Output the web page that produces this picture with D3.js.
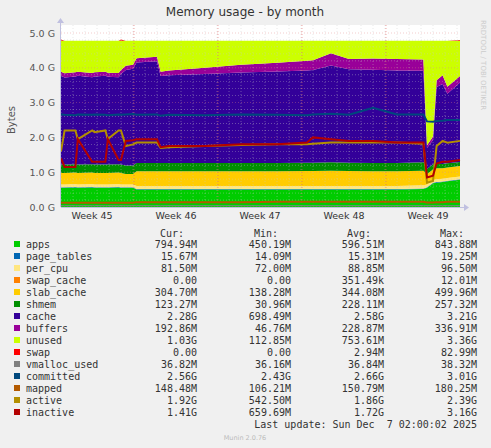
<!DOCTYPE html>
<html><head><meta charset="utf-8">
<script src="https://cdn.jsdelivr.net/npm/d3@7/dist/d3.min.js"></script>
<style>body{margin:0;background:#F0F0F0}svg{display:block}</style>
</head><body><svg id="c" width="491" height="448"></svg>
<script>
// time in days from the left edge of the plot
const days = [0,0.3,1.2,1.4,2.6,2.8,3.7,3.9,4.8,5.0,5.4,6.0,6.3,8.0,8.3,9,12,15,18,20.5,21,22.5,24,26,28,30.2,30.5,31.0,31.3,31.8,32.2,33.25];
const memTotal = 4.78;
const apps = [0.55,0.55,0.56,0.55,0.56,0.55,0.55,0.55,0.56,0.55,0.55,0.55,0.5,0.5,0.5,0.5,0.5,0.5,0.5,0.5,0.5,0.5,0.5,0.5,0.5,0.52,0.55,0.68,0.7,0.72,0.74,0.78];
const page_tables = days.map(()=>0.015);
const per_cpu = [0.085,0.085,0.085,0.085,0.085,0.085,0.085,0.085,0.085,0.085,0.085,0.085,0.09,0.09,0.09,0.09,0.09,0.09,0.09,0.09,0.09,0.09,0.09,0.09,0.09,0.09,0.08,0.08,0.08,0.08,0.08,0.08];
const swap_cache = days.map(()=>0);
const slab_cache = [0.33,0.33,0.33,0.33,0.33,0.33,0.33,0.33,0.33,0.33,0.3,0.3,0.42,0.42,0.42,0.42,0.42,0.42,0.42,0.43,0.43,0.44,0.43,0.42,0.42,0.42,0.3,0.3,0.32,0.3,0.3,0.3];
const shmem = [0.24,0.24,0.24,0.24,0.24,0.24,0.24,0.24,0.24,0.24,0.24,0.24,0.24,0.24,0.24,0.24,0.24,0.24,0.24,0.24,0.24,0.24,0.24,0.24,0.24,0.24,0.15,0.15,0.13,0.12,0.12,0.12];
const cache = [2.55,2.5,2.52,2.55,2.5,2.53,2.55,2.52,2.5,2.6,2.75,2.78,2.89,2.92,2.5,2.52,2.56,2.6,2.63,2.65,2.66,2.78,2.68,2.68,2.66,2.63,0.6,0.7,2.2,2.3,2.0,2.28];
const buffers = [0.12,0.12,0.12,0.12,0.12,0.12,0.12,0.12,0.12,0.12,0.12,0.12,0.12,0.13,0.12,0.14,0.18,0.22,0.25,0.28,0.28,0.35,0.3,0.32,0.33,0.32,0.08,0.1,0.2,0.25,0.2,0.19];
const swap = [0.03,0,0,0,0,0,0,0,0,0.03,0,0,0,0,0,0,0,0,0,0,0,0,0,0,0,0,0,0,0,0,0,0.02];
const vmalloc_used = days.map(()=>0.037);
const committed = [2.66,2.65,2.64,2.66,2.65,2.66,2.65,2.64,2.66,2.65,2.66,2.67,2.65,2.66,2.62,2.65,2.64,2.66,2.65,2.64,2.66,2.68,2.65,2.85,2.66,2.66,2.46,2.45,2.47,2.48,2.5,2.5];
const mapped = [0.12,0.12,0.12,0.12,0.12,0.12,0.12,0.12,0.12,0.12,0.12,0.12,0.14,0.14,0.14,0.14,0.14,0.14,0.15,0.15,0.15,0.15,0.15,0.15,0.15,0.15,0.13,0.13,0.14,0.14,0.15,0.15];
const active = [1.6,2.2,2.2,1.95,2.2,2.15,2.2,1.95,2.2,2.2,1.75,1.8,1.85,1.85,1.7,1.72,1.75,1.78,1.8,1.8,1.82,1.85,1.85,1.85,1.85,1.82,0.7,0.75,1.75,1.9,1.85,1.9];
const inactive = [1.4,1.15,1.15,1.95,1.3,1.3,1.3,1.95,1.35,1.35,1.9,1.92,1.95,1.95,1.72,1.75,1.75,1.8,1.8,1.85,2.0,1.95,1.9,1.9,1.85,1.85,0.85,0.9,1.25,1.3,1.3,1.35];
const yTicks = [0,1,2,3,4,5];
const weekLabels = ["Week 45","Week 46","Week 47","Week 48","Week 49"];
const weekStarts = [-0.92,6.08,13.08,20.08,27.08];
const legendRows = [
 ["apps","794.94M","450.19M","596.51M","843.88M","#00CC00"],
 ["page_tables","15.67M","14.09M","15.31M","19.25M","#0066B3"],
 ["per_cpu","81.50M","72.00M","88.85M","96.50M","#FFE680"],
 ["swap_cache","0.00","0.00","351.49k","12.01M","#FF8000"],
 ["slab_cache","304.70M","138.28M","344.08M","499.96M","#FFCC00"],
 ["shmem","123.27M","30.96M","228.11M","257.32M","#008F00"],
 ["cache","2.28G","698.49M","2.58G","3.21G","#330099"],
 ["buffers","192.86M","46.76M","228.87M","336.91M","#990099"],
 ["unused","1.03G","112.85M","753.61M","3.36G","#CCFF00"],
 ["swap","0.00","0.00","2.94M","82.99M","#FF0000"],
 ["vmalloc_used","36.82M","36.16M","36.84M","38.32M","#808080"],
 ["committed","2.56G","2.43G","2.66G","3.01G","#00487D"],
 ["mapped","148.48M","106.21M","150.79M","180.25M","#B35A00"],
 ["active","1.92G","542.50M","1.86G","2.39G","#B38F00"],
 ["inactive","1.41G","659.69M","1.72G","3.16G","#B30000"]];

const svg = d3.select("#c");
const L=61,R=460,T=33,B=207;
const x = d3.scaleLinear().domain([0,33.25]).range([L,R]);
const y = d3.scaleLinear().domain([0,5]).range([B,T]);
svg.append("rect").attr("x",L).attr("y",T-8).attr("width",R-L).attr("height",B-T+8).attr("fill","#fff");

// stack
const stackKeys = ["apps","page_tables","per_cpu","swap_cache","slab_cache","shmem","cache","buffers","unused","swap"];
const color = Object.fromEntries(legendRows.map(r=>[r[0],r[5]]));
const src = {apps,page_tables,per_cpu,swap_cache,slab_cache,shmem,cache,buffers,swap};
const rows = days.map((t,i)=>{
  const o={t}; let s=0;
  ["apps","page_tables","per_cpu","swap_cache","slab_cache","shmem","cache","buffers"].forEach(k=>{o[k]=src[k][i]; s+=src[k][i];});
  o.unused = Math.max(0, memTotal - s); o.swap = swap[i]; return o;});
const stacked = d3.stack().keys(stackKeys)(rows);
const area = d3.area().x(d=>x(d.data.t)).y0(d=>y(d[0])).y1(d=>y(d[1]));
svg.append("g").selectAll("path").data(stacked).join("path").attr("d",area).attr("fill",d=>color[d.key]);

// grid
const g = svg.append("g");
for(let v=0; v<=5.001; v+=0.2){ const maj = Math.abs(v-Math.round(v))<1e-6;
  g.append("line").attr("x1",L).attr("x2",R).attr("y1",y(v)).attr("y2",y(v))
   .attr("stroke",maj?"#e08080":"#c8c8c8").attr("stroke-width",0.5).attr("stroke-dasharray","1,2").attr("opacity",0.8);}
for(let d=0; d<=33.25; d+=1){
  g.append("line").attr("x1",x(d)).attr("x2",x(d)).attr("y1",T-8).attr("y2",B).attr("stroke","#c8c8c8").attr("stroke-width",0.5).attr("stroke-dasharray","1,2").attr("opacity",0.8);}
weekStarts.slice(1).forEach(d=>g.append("line").attr("x1",x(d)).attr("x2",x(d)).attr("y1",T-8).attr("y2",B).attr("stroke","#e06060").attr("stroke-width",0.6).attr("stroke-dasharray","1,2"));

// lines
const lineSeries = [["vmalloc_used",vmalloc_used],["committed",committed],["mapped",mapped],["active",active],["inactive",inactive]];
const line = d3.line().x((d,i)=>x(days[i])).y(d=>y(d));
lineSeries.forEach(([k,v])=>svg.append("path").attr("d",line(v)).attr("fill","none").attr("stroke",color[k]).attr("stroke-width",k==="vmalloc_used"?1:2));

// axes frame
svg.append("line").attr("x1",L).attr("x2",R+6).attr("y1",B+0.5).attr("y2",B+0.5).attr("stroke","#c0c0e0");
svg.append("line").attr("x1",L-0.5).attr("x2",L-0.5).attr("y1",B).attr("y2",T-12).attr("stroke","#c0c0e0");
svg.append("path").attr("d",`M${R+4},${B-3}L${R+9},${B+0.5}L${R+4},${B+4}Z`).attr("fill","#c0c0e0");
svg.append("path").attr("d",`M${L-4},${T-10}L${L-0.5},${T-15}L${L+3},${T-10}Z`).attr("fill","#c0c0e0");

const font="DejaVu Sans, sans-serif";
yTicks.forEach(v=>svg.append("text").attr("x",L-6).attr("y",y(v)+3.5).attr("text-anchor","end")
  .attr("font-family",font).attr("font-size",9.5).attr("fill","#555").text(v.toFixed(1)+" G"));
weekLabels.forEach((w,i)=>svg.append("text").attr("x",x(weekStarts[i]+3.5)).attr("y",B+12).attr("text-anchor","middle")
  .attr("font-family",font).attr("font-size",9.5).attr("fill","#333").text(w));
svg.append("text").attr("x",245).attr("y",16).attr("text-anchor","middle").attr("font-family",font).attr("font-size",12).attr("fill","#333").text("Memory usage - by month");
svg.append("text").attr("transform","translate(15,120) rotate(-90)").attr("text-anchor","middle").attr("font-family",font).attr("font-size",10).attr("fill","#555").text("Bytes");
svg.append("text").attr("transform","translate(481,20) rotate(90)").attr("font-family",font).attr("font-size",7).attr("fill","#ccc").text("RRDTOOL / TOBI OETIKER");

// legend
const mono="DejaVu Sans Mono, monospace";
const cols=[197,291,384,477];
["Cur:","Min:","Avg:","Max:"].forEach((h,i)=>svg.append("text").attr("x",cols[i]-13).attr("y",237).attr("text-anchor","end").attr("font-family",mono).attr("font-size",10).attr("fill","#333").text(h));
legendRows.forEach((r,j)=>{
  const yy=248+j*12;
  svg.append("rect").attr("x",14).attr("y",yy-7).attr("width",6).attr("height",6).attr("fill",r[5]);
  svg.append("text").attr("x",26).attr("y",yy).attr("font-family",mono).attr("font-size",10).attr("fill","#333").text(r[0]);
  for(let c=0;c<4;c++) svg.append("text").attr("x",cols[c]).attr("y",yy).attr("text-anchor","end").attr("font-family",mono).attr("font-size",10).attr("fill","#333").text(r[c+1]);
});
svg.append("text").attr("x",477).attr("y",428).attr("text-anchor","end").attr("font-family",mono).attr("font-size",10).attr("fill","#333").attr("xml:space","preserve").style("white-space","pre").text("Last update: Sun Dec  7 02:00:02 2025");
svg.append("text").attr("x",245).attr("y",440).attr("text-anchor","middle").attr("font-family",font).attr("font-size",6.5).attr("fill","#bbb").text("Munin 2.0.76");
</script></body></html>
